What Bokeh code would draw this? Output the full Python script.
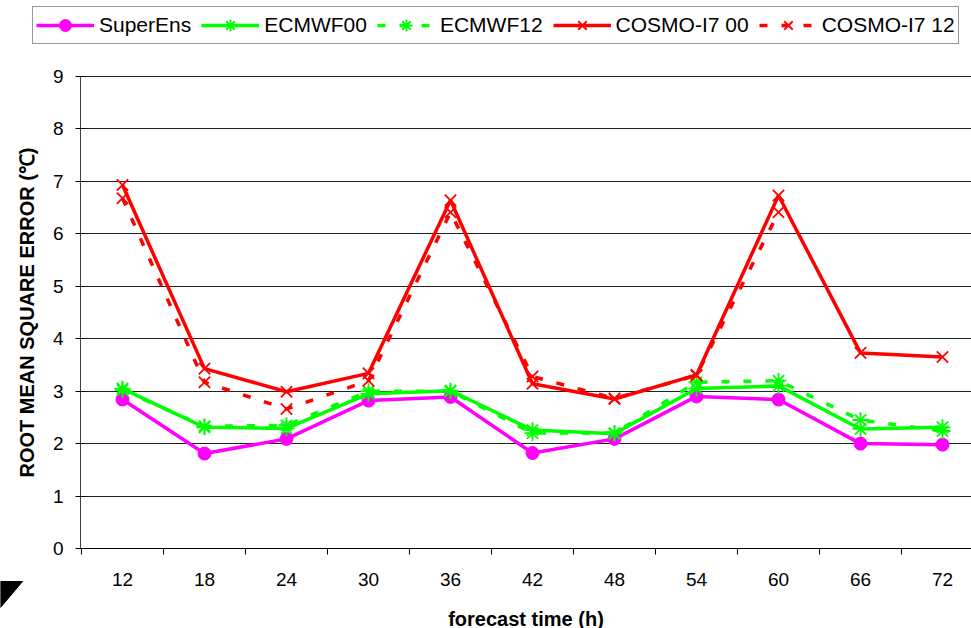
from bokeh.plotting import figure
from bokeh.models import Range1d, FixedTicker, Legend, LegendItem
from bokeh.embed import file_html
from bokeh.resources import INLINE

hours = ["12", "18", "24", "30", "36", "42", "48", "54", "60", "66", "72"]
superens = [2.84, 1.81, 2.09, 2.82, 2.89, 1.82, 2.09, 2.90, 2.84, 2.00, 1.98]
ecmwf00 = [3.05, 2.31, 2.29, 2.95, 3.01, 2.26, 2.19, 3.05, 3.10, 2.28, 2.31]
ecmwf12 = [3.02, 2.33, 2.35, 3.00, 3.00, 2.20, 2.20, 3.17, 3.20, 2.45, 2.24]
cosmo00 = [6.93, 3.43, 2.99, 3.34, 6.64, 3.14, 2.85, 3.31, 6.73, 3.73, 3.65]
cosmo12 = [6.68, 3.17, 2.66, 3.20, 6.41, 3.28, 2.86, 3.30, 6.41, float("nan"), float("nan")]
y_ticks = [0, 1, 2, 3, 4, 5, 6, 7, 8, 9]

FONT = "Liberation Sans"
xs = list(range(len(hours)))

# layout geometry (pixels)
W, H = 971, 628
AX_X = 80.0                 # y-axis position
AX_Y = 548.0                # x-axis position
CAT_W = 82.0                # width of one category
FIRST_X = 122.0             # centre of first category
Y_TOP_PX = 76.0             # pixel of the top tick (9)
px_per_unit = (AX_Y - Y_TOP_PX) / y_ticks[-1]


def dx(px):
    return (px - FIRST_X) / CAT_W


def dy(py):
    return (AX_Y - py) / px_per_unit


x0, x1, x_axis = dx(0), dx(W), dx(AX_X)
y0, y1 = dy(H), dy(0)

p = figure(width=W, height=H, output_backend="svg", toolbar_location=None,
           x_range=Range1d(x0, x1), y_range=Range1d(y0, y1),
           min_border_left=0, min_border_right=0, min_border_top=0, min_border_bottom=0)
p.outline_line_color = None
p.background_fill_color = "white"
p.border_fill_color = "white"

# x axis: drawn at y = 0; labels at category centres, tick marks between categories
p.xaxis.fixed_location = 0
p.xaxis.bounds = (x_axis, x1)
p.xaxis.ticker = FixedTicker(ticks=xs, minor_ticks=[i - 0.5 for i in range(len(hours) + 1)])
p.xaxis.major_label_overrides = {i: h for i, h in enumerate(hours)}
p.xaxis.major_tick_line_color = None
p.xaxis.major_tick_out = 0
p.xaxis.major_tick_in = 0
p.xaxis.minor_tick_out = 6
p.xaxis.minor_tick_in = 0
p.xaxis.minor_tick_line_color = "black"
p.xaxis.major_label_standoff = 18
p.xaxis.major_label_text_font = FONT
p.xaxis.major_label_text_font_size = "19px"
p.xaxis.major_label_text_color = "black"
p.xaxis.axis_label = "forecast time (h)"
p.xaxis.axis_label_text_font = FONT
p.xaxis.axis_label_text_font_style = "bold"
p.xaxis.axis_label_text_font_size = "20px"
p.xaxis.axis_label_text_color = "black"
p.xaxis.axis_label_standoff = 19
p.xaxis.axis_line_color = "black"

# y axis drawn at a fixed position inside the frame
p.yaxis.fixed_location = x_axis
p.yaxis.bounds = (0, y_ticks[-1])
p.yaxis.ticker = FixedTicker(ticks=y_ticks, minor_ticks=[])
p.yaxis.major_tick_in = 5
p.yaxis.major_tick_out = 5
p.yaxis.major_tick_line_color = "black"
p.yaxis.major_label_standoff = 12
p.yaxis.major_label_text_font = FONT
p.yaxis.major_label_text_font_size = "19px"
p.yaxis.major_label_text_color = "black"
p.yaxis.axis_label = "ROOT MEAN SQUARE ERROR (\u2103)"
p.yaxis.axis_label_text_font = FONT
p.yaxis.axis_label_text_font_style = "bold"
p.yaxis.axis_label_text_font_size = "20px"
p.yaxis.axis_label_text_color = "black"
p.yaxis.axis_label_standoff = 12
p.yaxis.axis_line_color = "#404040"

p.xgrid.grid_line_color = None
p.ygrid.ticker = FixedTicker(ticks=y_ticks[1:])
p.ygrid.cross_bounds = (x_axis, x1)
p.ygrid.grid_line_color = "#202020"
p.ygrid.grid_line_width = 1

MAGENTA = "#FF00FF"
GREEN = "#00FF00"
RED = "#FF0000"
DASH = "8 14"
LW = 3.5

items = []
l1 = p.line(xs, superens, line_color=MAGENTA, line_width=LW)
m1 = p.scatter(xs, superens, marker="circle", size=13, fill_color=MAGENTA, line_color=MAGENTA)
items.append(LegendItem(label="SuperEns", renderers=[l1, m1]))

l2 = p.line(xs, ecmwf00, line_color=GREEN, line_width=LW)
m2 = p.scatter(xs, ecmwf00, marker="asterisk", size=16, line_color=GREEN, line_width=1.8)
items.append(LegendItem(label="ECMWF00", renderers=[l2, m2]))

l3 = p.line(xs, ecmwf12, line_color=GREEN, line_width=LW, line_dash=DASH)
m3 = p.scatter(xs, ecmwf12, marker="asterisk", size=16, line_color=GREEN, line_width=1.8)
items.append(LegendItem(label="ECMWF12", renderers=[l3, m3]))

l4 = p.line(xs, cosmo00, line_color=RED, line_width=LW)
m4 = p.scatter(xs, cosmo00, marker="x", size=16, line_color=RED, line_width=1.8)
items.append(LegendItem(label="COSMO-I7 00", renderers=[l4, m4]))

l5 = p.line(xs, cosmo12, line_color=RED, line_width=LW, line_dash=DASH)
m5 = p.scatter(xs, cosmo12, marker="x", size=16, line_color=RED, line_width=1.8)
items.append(LegendItem(label="COSMO-I7 12", renderers=[l5, m5]))

legend = Legend(items=items, orientation="horizontal", location=(32, H - 44),
                label_text_font=FONT, label_text_font_size="21px", label_text_color="black",
                glyph_width=58, glyph_height=30, label_standoff=5, spacing=10,
                padding=3, margin=0, border_line_color="#303030", border_line_width=1.5,
                background_fill_color="white", background_fill_alpha=1.0,
                label_height=21)
p.add_layout(legend, "center")

# dark corner decoration at the bottom-left of the picture
p.patch([dx(0), dx(22), dx(0)], [dy(581), dy(581), dy(607)],
        fill_color="black", line_color="black")

open("out.html", "w").write(file_html(p, INLINE))
